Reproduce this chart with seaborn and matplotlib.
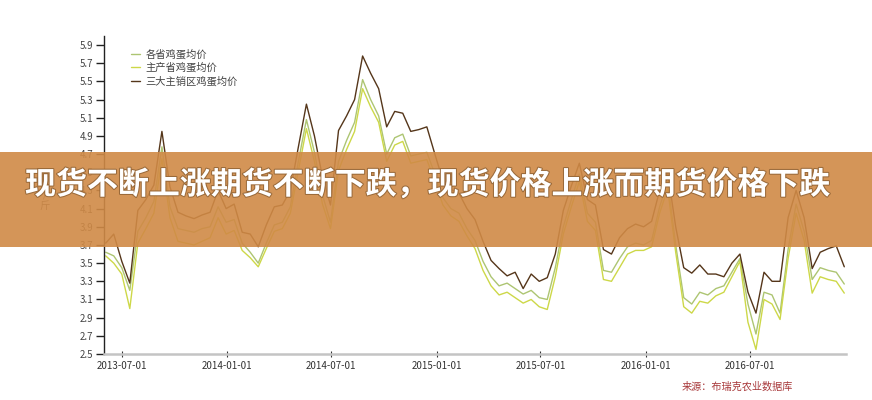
"""
egg price chart with banner
"""
import pandas as pd
import matplotlib
matplotlib.use('Agg')
import matplotlib.pyplot as plt
import matplotlib.dates as mdates
import matplotlib.patheffects as pe
from matplotlib.patches import Rectangle
from matplotlib.ticker import FormatStrFormatter
import seaborn as sns

# bi-weekly samples
start_date = '2013-06-03'
step = '14D'

series_names = ['各省鸡蛋均价', '主产省鸡蛋均价', '三大主销区鸡蛋均价']
series_colors = ['#adc572', '#cdd848', '#55361a']

all_prov = [3.62, 3.58, 3.45, 3.20, 3.85, 4.00, 4.18, 4.78, 4.12, 3.88,
            3.86, 3.84, 3.88, 3.90, 4.12, 3.95, 3.98, 3.72, 3.62, 3.50,
            3.72, 3.92, 3.95, 4.12, 4.62, 5.08, 4.72, 4.25, 3.95, 4.62,
            4.85, 5.05, 5.52, 5.30, 5.12, 4.70, 4.88, 4.92, 4.68, 4.70,
            4.72, 4.48, 4.22, 4.10, 4.05, 3.88, 3.75, 3.52, 3.35, 3.25,
            3.28, 3.22, 3.16, 3.20, 3.12, 3.10, 3.45, 3.90, 4.20, 4.48,
            4.05, 3.95, 3.42, 3.40, 3.55, 3.68, 3.72, 3.70, 3.75, 4.12,
            4.40, 3.70, 3.12, 3.05, 3.18, 3.15, 3.22, 3.25, 3.40, 3.55,
            3.05, 2.72, 3.18, 3.15, 2.95, 3.65, 4.15, 3.85, 3.32, 3.45,
            3.42, 3.40, 3.27]

main_prod = [3.58, 3.50, 3.38, 3.00, 3.72, 3.88, 4.05, 4.65, 4.00, 3.74,
             3.72, 3.70, 3.74, 3.78, 4.00, 3.82, 3.86, 3.64, 3.56, 3.46,
             3.66, 3.85, 3.88, 4.05, 4.52, 4.98, 4.62, 4.15, 3.88, 4.52,
             4.75, 4.95, 5.42, 5.22, 5.05, 4.62, 4.80, 4.84, 4.60, 4.62,
             4.64, 4.40, 4.14, 4.02, 3.96, 3.80, 3.66, 3.42, 3.25, 3.15,
             3.18, 3.12, 3.06, 3.10, 3.02, 2.99, 3.35, 3.82, 4.12, 4.40,
             3.96, 3.86, 3.32, 3.30, 3.45, 3.60, 3.64, 3.64, 3.68, 4.05,
             4.32, 3.62, 3.02, 2.95, 3.08, 3.06, 3.14, 3.18, 3.35, 3.52,
             2.85, 2.55, 3.10, 3.05, 2.88, 3.55, 4.05, 3.75, 3.17, 3.35,
             3.32, 3.30, 3.17]

main_sale = [3.72, 3.82, 3.52, 3.28, 4.08, 4.20, 4.36, 4.95, 4.34, 4.06,
             4.02, 3.99, 4.03, 4.06, 4.30, 4.10, 4.15, 3.84, 3.82, 3.68,
             3.92, 4.12, 4.14, 4.30, 4.78, 5.25, 4.90, 4.45, 4.14, 4.96,
             5.12, 5.30, 5.78, 5.59, 5.42, 5.00, 5.17, 5.15, 4.95, 4.97,
             5.00, 4.70, 4.41, 4.31, 4.27, 4.10, 3.98, 3.74, 3.53, 3.44,
             3.36, 3.40, 3.22, 3.38, 3.30, 3.34, 3.60, 4.08, 4.35, 4.60,
             4.20, 4.14, 3.65, 3.60, 3.78, 3.88, 3.93, 3.90, 3.96, 4.30,
             4.50, 3.90, 3.45, 3.39, 3.48, 3.38, 3.38, 3.35, 3.50, 3.60,
             3.18, 2.95, 3.40, 3.30, 3.30, 4.00, 4.30, 4.00, 3.44, 3.62,
             3.66, 3.69, 3.46]

tick_dates = ['2013-07-01', '2014-01-01', '2014-07-01', '2015-01-01',
              '2015-07-01', '2016-01-01', '2016-07-01']
y_ticks = [2.5, 2.7, 2.9, 3.1, 3.3, 3.5, 3.7, 3.9, 4.1, 4.3,
           4.5, 4.7, 4.9, 5.1, 5.3, 5.5, 5.7, 5.9]

banner_text = '现货不断上涨期货不断下跌，现货价格上涨而期货价格下跌'
source_text = '来源：布瑞克农业数据库'

dates = pd.date_range(start_date, periods=len(main_sale), freq=step)
df = pd.DataFrame({'date': dates,
                   series_names[0]: all_prov,
                   series_names[1]: main_prod,
                   series_names[2]: main_sale})
df = df.melt(id_vars='date', var_name='series', value_name='price')

sns.set_style('white')
plt.rcParams['font.family'] = ['Noto Sans CJK SC', 'DejaVu Sans']

fig = plt.figure(figsize=(8.72, 4.0), dpi=100)
ax = fig.add_axes([104 / 872, 46 / 400, 742 / 872, 318 / 400])

sns.lineplot(data=df, x='date', y='price', hue='series',
             hue_order=series_names, palette=series_colors,
             linewidth=1.0, ax=ax)

ax.set_xlim(pd.Timestamp('2013-05-31'), pd.Timestamp('2016-12-15'))
ax.set_ylim(2.5, 6.0)
ax.set_xticks(pd.to_datetime(tick_dates))
ax.xaxis.set_major_formatter(mdates.DateFormatter('%Y-%m-%d'))
ax.set_yticks(y_ticks)
ax.yaxis.set_major_formatter(FormatStrFormatter('%.1f'))
ax.set_xlabel('')
ax.set_ylabel('')

for s in ['top', 'right']:
    ax.spines[s].set_visible(False)
ax.spines['left'].set_color('#222222')
ax.spines['left'].set_linewidth(1.0)
ax.spines['bottom'].set_color('#c4c4c4')
ax.spines['bottom'].set_linewidth(1.8)

ax.tick_params(axis='y', direction='out', length=5.5, width=1.0,
               color='#222222', labelsize=7, labelcolor='#444444', pad=2, left=True)
ax.tick_params(axis='x', direction='inout', length=4, width=0.8,
               color='#333333', labelsize=7, labelcolor='#333333', pad=3, bottom=True)

sns.move_legend(ax, 'upper left', bbox_to_anchor=(0.03, 0.975),
                frameon=False, title=None, fontsize=7.4,
                handlelength=0.8, handletextpad=0.6, labelspacing=0.3,
                borderpad=0, labelcolor='#444444')

fig.text(45 / 872, 1 - 194 / 400, '元\n/\n斤', ha='center', va='center',
         fontsize=7.5, color='#555555', linespacing=1.2)

# orange banner over the chart
fig.add_artist(Rectangle((0, 153 / 400), 1, 95 / 400, transform=fig.transFigure,
                         facecolor=(208 / 255, 138 / 255, 70 / 255), alpha=0.9,
                         edgecolor='none', zorder=5))
fig.text(428 / 872, 1 - 185 / 400, banner_text, ha='center', va='center',
         fontsize=22.3, fontweight='bold', color='white', zorder=6,
         path_effects=[pe.withStroke(linewidth=1.5, foreground='#9a6a3a')])

fig.text(682 / 872, 1 - 387 / 400, source_text, ha='left', va='center',
         fontsize=7.3, color='#a8383a')

fig.savefig('out.png', dpi=100)
